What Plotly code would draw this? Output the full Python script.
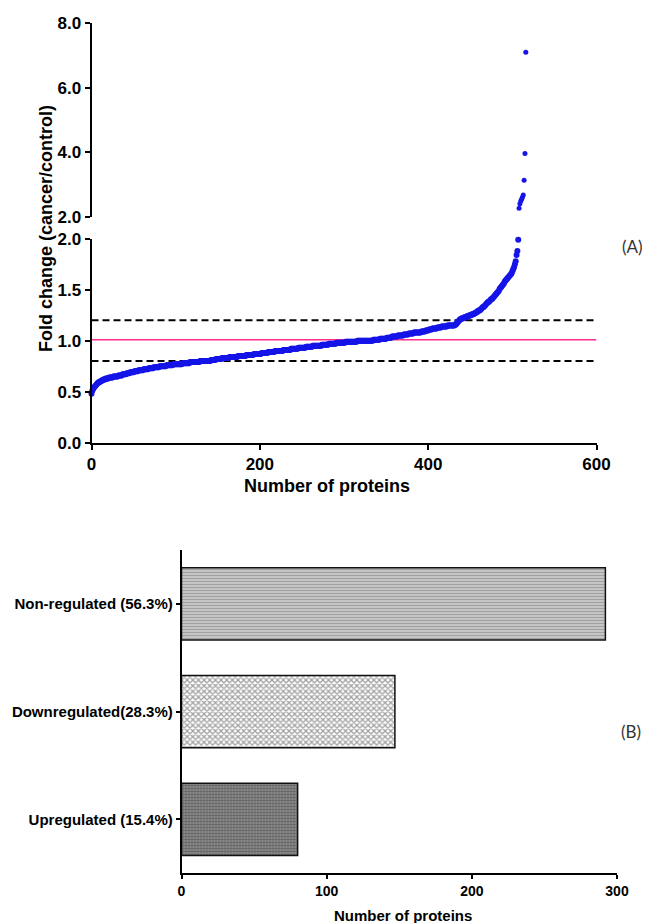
import plotly.graph_objects as go

# ---------------- data ----------------
fold_change = [
    0.48, 0.51, 0.53, 0.54, 0.55, 0.56, 0.57, 0.58, 0.59, 0.59,
    0.60, 0.60, 0.61, 0.61, 0.62, 0.62, 0.62, 0.63, 0.63, 0.63,
    0.63, 0.64, 0.64, 0.64, 0.64, 0.64, 0.65, 0.65, 0.65, 0.65,
    0.65, 0.65, 0.66, 0.66, 0.66, 0.66, 0.66, 0.67, 0.67, 0.67,
    0.67, 0.67, 0.68, 0.68, 0.68, 0.68, 0.69, 0.69, 0.69, 0.69,
    0.69, 0.70, 0.70, 0.70, 0.70, 0.70, 0.71, 0.71, 0.71, 0.71,
    0.71, 0.71, 0.72, 0.72, 0.72, 0.72, 0.72, 0.72, 0.73, 0.73,
    0.73, 0.73, 0.73, 0.73, 0.74, 0.74, 0.74, 0.74, 0.74, 0.74,
    0.74, 0.75, 0.75, 0.75, 0.75, 0.75, 0.75, 0.75, 0.75, 0.76,
    0.76, 0.76, 0.76, 0.76, 0.76, 0.76, 0.76, 0.77, 0.77, 0.77,
    0.77, 0.77, 0.77, 0.77, 0.77, 0.77, 0.77, 0.77, 0.78, 0.78,
    0.78, 0.78, 0.78, 0.78, 0.78, 0.78, 0.78, 0.79, 0.79, 0.79,
    0.79, 0.79, 0.79, 0.79, 0.79, 0.79, 0.79, 0.79, 0.79, 0.80,
    0.80, 0.80, 0.80, 0.80, 0.80, 0.80, 0.80, 0.80, 0.80, 0.80,
    0.80, 0.80, 0.81, 0.81, 0.81, 0.81, 0.81, 0.81, 0.82, 0.82,
    0.82, 0.82, 0.82, 0.82, 0.82, 0.83, 0.83, 0.83, 0.83, 0.83,
    0.83, 0.83, 0.83, 0.83, 0.84, 0.84, 0.84, 0.84, 0.84, 0.84,
    0.84, 0.84, 0.84, 0.84, 0.85, 0.85, 0.85, 0.85, 0.85, 0.85,
    0.85, 0.85, 0.85, 0.85, 0.86, 0.86, 0.86, 0.86, 0.86, 0.86,
    0.86, 0.86, 0.86, 0.87, 0.87, 0.87, 0.87, 0.87, 0.87, 0.87,
    0.87, 0.87, 0.88, 0.88, 0.88, 0.88, 0.88, 0.88, 0.88, 0.88,
    0.89, 0.89, 0.89, 0.89, 0.89, 0.89, 0.89, 0.89, 0.90, 0.90,
    0.90, 0.90, 0.90, 0.90, 0.90, 0.90, 0.90, 0.90, 0.91, 0.91,
    0.91, 0.91, 0.91, 0.91, 0.91, 0.91, 0.91, 0.92, 0.92, 0.92,
    0.92, 0.92, 0.92, 0.92, 0.92, 0.92, 0.93, 0.93, 0.93, 0.93,
    0.93, 0.93, 0.93, 0.93, 0.93, 0.94, 0.94, 0.94, 0.94, 0.94,
    0.94, 0.94, 0.94, 0.95, 0.95, 0.95, 0.95, 0.95, 0.95, 0.95,
    0.95, 0.95, 0.95, 0.95, 0.96, 0.96, 0.96, 0.96, 0.96, 0.96,
    0.96, 0.96, 0.97, 0.97, 0.97, 0.97, 0.97, 0.97, 0.97, 0.97,
    0.97, 0.98, 0.98, 0.98, 0.98, 0.98, 0.98, 0.98, 0.98, 0.98,
    0.98, 0.98, 0.99, 0.99, 0.99, 0.99, 0.99, 0.99, 0.99, 0.99,
    0.99, 0.99, 0.99, 0.99, 0.99, 0.99, 1.00, 1.00, 1.00, 1.00,
    1.00, 1.00, 1.00, 1.00, 1.00, 1.00, 1.00, 1.00, 1.00, 1.00,
    1.00, 1.00, 1.00, 1.00, 1.00, 1.01, 1.01, 1.01, 1.01, 1.01,
    1.01, 1.01, 1.01, 1.02, 1.02, 1.02, 1.02, 1.02, 1.02, 1.02,
    1.02, 1.03, 1.03, 1.03, 1.03, 1.03, 1.03, 1.04, 1.04, 1.04,
    1.04, 1.04, 1.04, 1.04, 1.05, 1.05, 1.05, 1.05, 1.05, 1.05,
    1.05, 1.06, 1.06, 1.06, 1.06, 1.06, 1.06, 1.07, 1.07, 1.07,
    1.07, 1.07, 1.07, 1.08, 1.08, 1.08, 1.08, 1.08, 1.08, 1.08,
    1.08, 1.08, 1.09, 1.09, 1.09, 1.09, 1.09, 1.10, 1.10, 1.10,
    1.10, 1.11, 1.11, 1.11, 1.11, 1.12, 1.12, 1.12, 1.12, 1.12,
    1.12, 1.13, 1.13, 1.13, 1.13, 1.13, 1.14, 1.14, 1.14, 1.14,
    1.14, 1.14, 1.14, 1.15, 1.15, 1.15, 1.15, 1.15, 1.15, 1.15,
    1.15, 1.15, 1.16, 1.16, 1.17, 1.18, 1.19, 1.20, 1.21, 1.21,
    1.22, 1.22, 1.22, 1.23, 1.23, 1.23, 1.24, 1.24, 1.24, 1.25,
    1.25, 1.25, 1.26, 1.26, 1.26, 1.27, 1.27, 1.28, 1.28, 1.29,
    1.29, 1.30, 1.30, 1.31, 1.32, 1.33, 1.33, 1.34, 1.35, 1.36,
    1.37, 1.38, 1.38, 1.39, 1.40, 1.41, 1.41, 1.42, 1.43, 1.44,
    1.45, 1.46, 1.47, 1.48, 1.49, 1.51, 1.52, 1.53, 1.54, 1.55,
    1.56, 1.58, 1.59, 1.60, 1.61, 1.62, 1.63, 1.64, 1.65, 1.66,
    1.68, 1.70, 1.72, 1.75, 1.78, 1.84, 1.88, 1.99,
    2.28, 2.42, 2.50, 2.56, 2.62, 2.69, 3.14, 3.97, 7.09,
]
protein_rank = list(range(len(fold_change)))

axis_break = 2.0
upper_cutoff = 1.2
lower_cutoff = 0.8
baseline = 1.01
line_span = [0, 600]

x_ticks_a = [0, 200, 400, 600]
y_ticks_low = [0.0, 0.5, 1.0, 1.5, 2.0]
y_ticks_high = [2.0, 4.0, 6.0, 8.0]

categories = ["Upregulated (15.4%)", "Downregulated(28.3%)", "Non-regulated (56.3%)"]
counts = [80, 147, 292]
x_ticks_b = [0, 100, 200, 300]

# ---------------- helpers ----------------
# the page body has an 8px margin; size the figure so it fits the 650x923 window
OFF = 8
W, H = 650 - OFF, 923 - OFF


def fx(p):
    return (p - OFF) / W


def fy(p):
    return 1 - (p - OFF) / H


BOLD = dict(family="Liberation Sans, Arial, sans-serif", color="black", weight="bold")

low_x = [r for r, v in zip(protein_rank, fold_change) if v <= axis_break]
low_y = [v for v in fold_change if v <= axis_break]
high_x = [r for r, v in zip(protein_rank, fold_change) if v > axis_break]
high_y = [v for v in fold_change if v > axis_break]

fig = go.Figure()

# reference lines
for val, col, dash, wid in [
    (upper_cutoff, "black", "7px,4px", 2),
    (lower_cutoff, "black", "7px,4px", 2),
    (baseline, "#ff2d8c", "solid", 1.6),
]:
    fig.add_trace(go.Scatter(
        x=line_span, y=[val, val], mode="lines",
        line=dict(color=col, dash=dash, width=wid),
        xaxis="x", yaxis="y", showlegend=False, hoverinfo="skip",
    ))

fig.add_trace(go.Scatter(x=low_x, y=low_y, mode="markers",
                         marker=dict(color="#1515e8", size=6, line=dict(width=0)),
                         xaxis="x", yaxis="y", showlegend=False, cliponaxis=False))
fig.add_trace(go.Scatter(x=high_x, y=high_y, mode="markers",
                         marker=dict(color="#1515e8", size=5, line=dict(width=0)),
                         xaxis="x", yaxis="y2", showlegend=False, cliponaxis=False))

# bar chart (B)
fig.add_trace(go.Bar(
    y=categories, x=counts, orientation="h", width=0.67,
    xaxis="x2", yaxis="y3", showlegend=False,
    marker=dict(
        color=["#8a8a8a", "white", "white"],
        line=dict(color="#111", width=1.5),
        pattern=dict(
            shape=["+", "x", "-"],
            fgcolor=["#2a2a2a", "#000000", "#000000"],
            bgcolor=["#c4c4c4", "white", "white"],
            size=[3, 4, 3],
            solidity=[0.5, 0.55, 0.75],
        ),
    ),
))

axis_common = dict(showline=True, linecolor="black", linewidth=2, ticks="outside",
                   ticklen=5, tickwidth=2, tickcolor="black", showgrid=False,
                   zeroline=False, mirror=False, automargin=False)
axis_thin = {**axis_common, "linewidth": 1.5, "tickwidth": 1.5, "ticklen": 4}

fig.update_layout(
    width=W, height=H,
    margin=dict(l=0, r=0, t=0, b=0, pad=0, autoexpand=False),
    paper_bgcolor="white", plot_bgcolor="white",
    xaxis=dict(domain=[fx(91.5), fx(596.5)], anchor="y", range=[0, 600],
               tickvals=x_ticks_a, tickfont=dict(size=17, **BOLD), **axis_common),
    yaxis=dict(domain=[fy(442.7), fy(238.7)], anchor="x", range=[0, 2],
               tickvals=y_ticks_low, tickformat=".1f",
               tickfont=dict(size=17, **BOLD), **axis_common),
    yaxis2=dict(domain=[fy(217.3), fy(22.7)], anchor="x", range=[2, 8],
                tickvals=y_ticks_high, tickformat=".1f",
                tickfont=dict(size=17, **BOLD), **axis_common),
    xaxis2=dict(domain=[fx(181.5), fx(617)], anchor="y3", range=[0, 300],
                tickvals=x_ticks_b, tickfont=dict(size=14, **BOLD), **axis_thin),
    yaxis3=dict(domain=[fy(873.3), fy(550)], anchor="x2", type="category",
                categoryorder="array", categoryarray=categories, range=[-0.5, 2.5],
                tickfont=dict(size=15, **BOLD), **axis_thin),
    annotations=[
        dict(text="Fold change (cancer/control)", x=fx(46), y=fy(229),
             textangle=-90, font=dict(size=18, **BOLD)),
        dict(text="Number of proteins", x=fx(327), y=fy(486), font=dict(size=18, **BOLD)),
        dict(text="Number of proteins", x=fx(403), y=fy(915), font=dict(size=15, **BOLD)),
        dict(text="(A)", x=fx(632), y=fy(246),
             font=dict(size=17, family="Lato, Open Sans, sans-serif", color="#333")),
        dict(text="(B)", x=fx(631), y=fy(731),
             font=dict(size=17, family="Lato, Open Sans, sans-serif", color="#333")),
    ],
)
fig.update_annotations(xref="paper", yref="paper", xanchor="center", yanchor="middle",
                       showarrow=False)

fig.write_html("out.html")
